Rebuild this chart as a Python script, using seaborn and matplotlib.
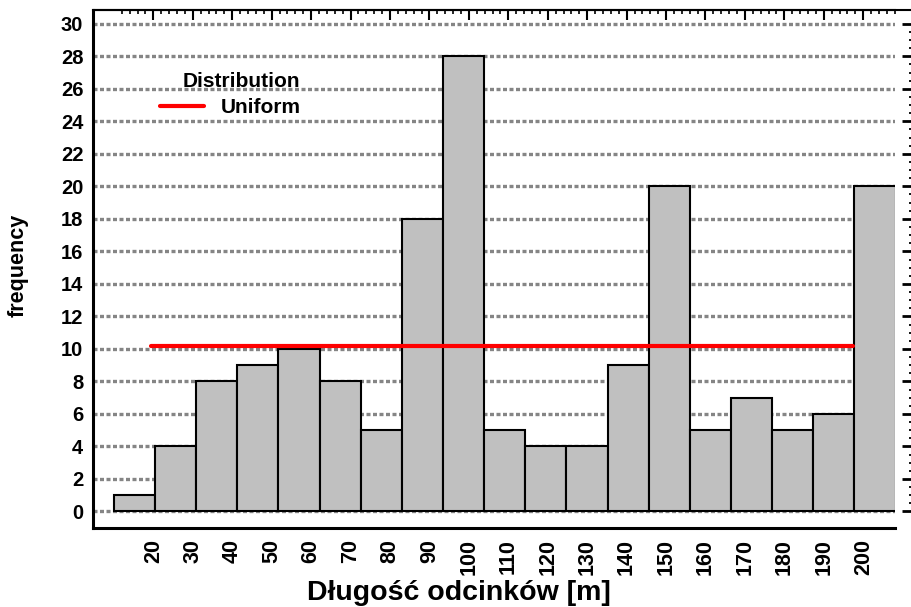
import numpy as np
import pandas as pd
import matplotlib
matplotlib.use("Agg")
import matplotlib.pyplot as plt
import seaborn as sns

# Histogram of segment lengths: 19 equal-width bins between the bin limits
bin_lo = 10.0
bin_hi = 208.2
counts = [1, 4, 8, 9, 10, 8, 5, 18, 28, 5, 4, 4, 9, 20, 5, 7, 5, 6, 20]

# Fitted uniform distribution (level and support)
uniform_x = [19.5, 197.4]
uniform_level = 10.15

x_major = list(range(20, 201, 10))
y_major = list(range(0, 31, 2))

sns.set_style("white")
plt.rcParams["font.family"] = ["Liberation Sans", "DejaVu Sans"]
plt.rcParams["font.weight"] = "bold"
for key in ("text.color", "axes.labelcolor", "xtick.color", "ytick.color",
            "axes.edgecolor"):
    plt.rcParams[key] = "black"

edges = np.linspace(bin_lo, bin_hi, len(counts) + 1)
centers = (edges[:-1] + edges[1:]) / 2
hist_df = pd.DataFrame({"length": centers, "n": counts})

fig = plt.figure(figsize=(9.12, 6.07), dpi=100)
ax = fig.add_axes([93 / 912, 79.3 / 607, 802 / 912, 517.7 / 607])
ax.set_axisbelow(True)

sns.histplot(data=hist_df, x="length", weights="n",
             bins=[float(e) for e in edges], color="#c0c0c0",
             edgecolor="black", linewidth=1.5, alpha=1, ax=ax)
sns.lineplot(x=uniform_x, y=[uniform_level] * len(uniform_x), color="red",
             linewidth=3, ax=ax, label="Uniform", zorder=3)

ax.set_xlim(4.7, 208.05)
ax.set_ylim(-1, 30.85)

ax.set_xticks(x_major)
ax.set_xticks(np.arange(12, 209, 2), minor=True)
ax.set_yticks(y_major)
ax.set_yticks(np.arange(0, 30.01, 0.5), minor=True)

ax.tick_params(axis="both", which="both", direction="in", top=True,
               right=True, colors="black")
ax.tick_params(axis="x", which="major", length=7, width=1.5, pad=8,
               labelsize=15.5, labelrotation=90)
ax.tick_params(axis="x", which="minor", length=3, width=1.2)
ax.tick_params(axis="y", which="major", length=8.5, width=2, pad=7,
               labelsize=14.5)
ax.tick_params(axis="y", which="minor", length=3.6, width=1.3)
for lbl in ax.get_xticklabels() + ax.get_yticklabels():
    lbl.set_fontweight("bold")

ax.yaxis.grid(True, which="major", color="#858585",
              linestyle=(0, (1.2, 0.75)), linewidth=2.4)
ax.xaxis.grid(False)

for side in ("left", "bottom"):
    ax.spines[side].set_linewidth(2.2)
ax.spines["top"].set_linewidth(1.5)
ax.spines["right"].set_position(("axes", 1.0237))
ax.plot([0, 1.03], [1, 1], transform=ax.transAxes, color="black",
        linewidth=1.5, clip_on=False)

ax.set_xlabel("Długość odcinków [m]", fontsize=20.5, fontweight="bold")
ax.xaxis.label.set_va("baseline")
ax.xaxis.set_label_coords(0.456, -0.1397)
ax.set_ylabel("frequency", fontsize=15.5, fontweight="bold")
ax.yaxis.label.set_va("center")
ax.yaxis.set_label_coords(-0.0935, 0.507)

leg = ax.legend(title="Distribution", loc="upper left",
                bbox_to_anchor=(0.0835, 0.88), frameon=False, borderpad=0,
                borderaxespad=0, handlelength=2.1, handletextpad=0.8,
                labelspacing=0.1, alignment="right",
                prop={"size": 15, "weight": "bold"},
                title_fontproperties={"size": 15, "weight": "bold"})
leg._legend_box.sep = 5

fig.savefig("out.png", dpi=100)
